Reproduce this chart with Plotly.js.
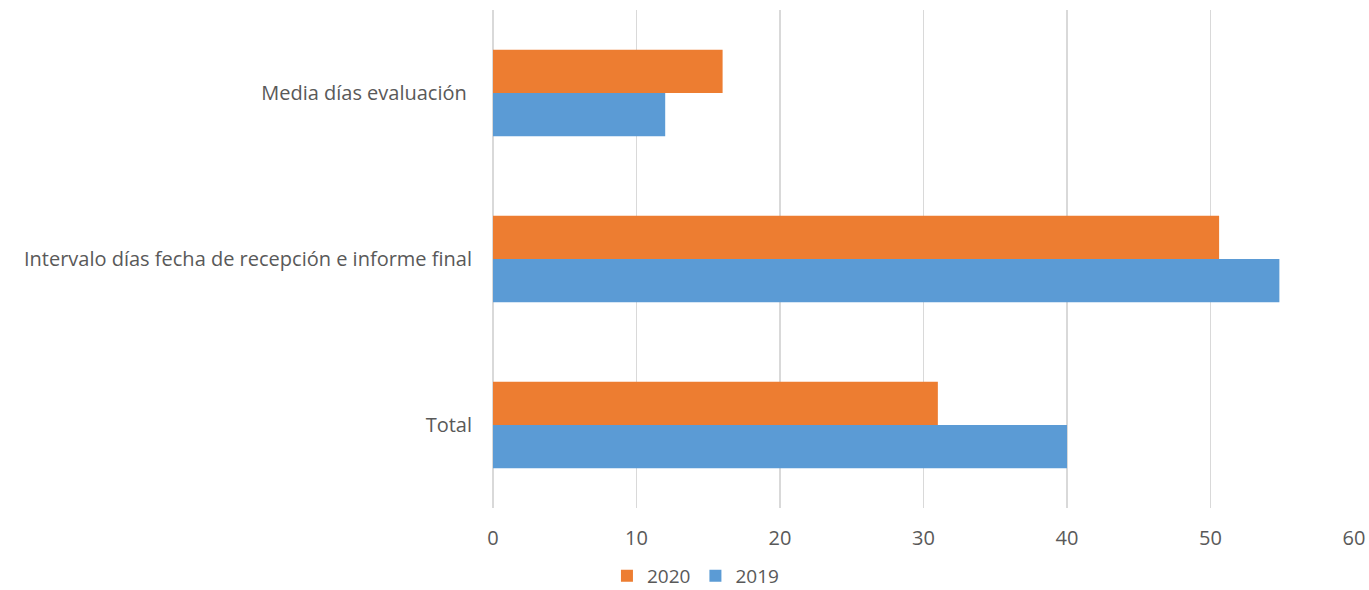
<!DOCTYPE html>
<html>
<head>
<meta charset="utf-8">
<script src="https://cdn.plot.ly/plotly-3.0.1.min.js"></script>
<style>html,body{margin:0;padding:0;background:#fff;}#chart{width:1369px;height:590px;}</style>
</head>
<body>
<div id="chart"></div>
<script>
const categories = ['Total', 'Intervalo días fecha de recepción e informe final', 'Media días evaluación '];
const values2019 = [40, 54.8, 12];
const values2020 = [31, 50.6, 16];
const seriesNames = ['2019', '2020'];
const xTicks = [0, 10, 20, 30, 40, 50, 60];

const traces = [
  {type: 'bar', orientation: 'h', name: seriesNames[0], y: categories, x: values2019,
   marker: {color: '#5b9bd5'}, hoverinfo: 'x+name'},
  {type: 'bar', orientation: 'h', name: seriesNames[1], y: categories, x: values2020,
   marker: {color: '#ed7d31'}, hoverinfo: 'x+name'}
];

const layout = {
  width: 1369, height: 590,
  margin: {l: 493, r: 15, t: 10, b: 82},
  paper_bgcolor: '#ffffff', plot_bgcolor: '#ffffff',
  font: {family: 'Open Sans, Liberation Sans, sans-serif', color: '#595959', size: 20},
  barmode: 'group', bargap: 0.48, bargroupgap: 0,
  xaxis: {range: [0, 60], tickvals: xTicks, ticktext: xTicks.map(String),
    showgrid: true, gridcolor: '#d9d9d9', gridwidth: 1.5,
    zeroline: true, zerolinecolor: '#d9d9d9', zerolinewidth: 1.5, showline: false,
    ticks: '', tickfont: {size: 20, color: '#595959'}, ticklabelstandoff: 16, fixedrange: true},
  yaxis: {type: 'category', categoryorder: 'array', categoryarray: categories,
    showgrid: false, zeroline: false, showline: false, ticks: '',
    tickfont: {size: 20, color: '#595959'}, ticklabelstandoff: 20, automargin: false},
  showlegend: true,
  legend: {orientation: 'h', xref: 'container', yref: 'container', x: 0.508, xanchor: 'center',
    y: 0.024, yanchor: 'middle',
    traceorder: 'reversed', font: {size: 19, color: '#595959'}, itemwidth: 30}
};

Plotly.newPlot('chart', traces, layout, {displayModeBar: false, staticPlot: true});
</script>
</body>
</html>
